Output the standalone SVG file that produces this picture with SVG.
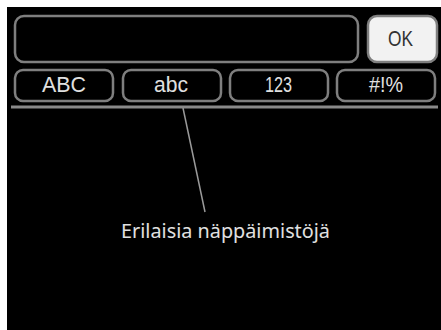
<svg xmlns="http://www.w3.org/2000/svg" width="441" height="330" viewBox="0 0 441 330">
  <style>
    .box { fill: #000; stroke: #7f7f7f; stroke-width: 2.5; }
    .ok { fill: #f2f2f2; stroke: #7f7f7f; stroke-width: 2.5; }
    .tab { font-family: "Liberation Sans", Arial, sans-serif; font-size: 22px; fill: #e0e0e0; }
    .label { font-family: "Noto Sans", "Open Sans", sans-serif; font-size: 19px; fill: #e0e0e0; }
    .conn { stroke: #9a9a9a; fill: none; }
  </style>
  <rect x="0" y="0" width="441" height="330" fill="#fff"/>
  <rect x="7" y="7" width="434" height="323" fill="#000"/>
  <g id="input-field">
    <rect class="box" x="15" y="16" width="343" height="46" rx="9"/>
  </g>
  <g id="ok-button">
    <rect class="ok" x="368" y="16" width="69" height="46" rx="9"/>
    <text class="tab" x="388" y="46" textLength="25" lengthAdjust="spacingAndGlyphs" style="fill:#333">OK</text>
  </g>
  <g id="tab-ABC">
    <rect class="box" x="15" y="70" width="98" height="31" rx="8"/>
    <text class="tab" x="42" y="92" textLength="44" lengthAdjust="spacingAndGlyphs">ABC</text>
  </g>
  <g id="tab-abc">
    <rect class="box" x="123" y="70" width="98" height="31" rx="8"/>
    <text class="tab" x="154" y="92" textLength="34" lengthAdjust="spacingAndGlyphs">abc</text>
  </g>
  <g id="tab-123">
    <rect class="box" x="230" y="70" width="98" height="31" rx="8"/>
    <text class="tab" x="265" y="92" textLength="27" lengthAdjust="spacingAndGlyphs">123</text>
  </g>
  <g id="tab-sym">
    <rect class="box" x="337" y="70" width="98" height="31" rx="8"/>
    <text class="tab" x="369" y="92" textLength="34" lengthAdjust="spacingAndGlyphs">#!%</text>
  </g>
  <g id="separator">
    <line x1="11" y1="107" x2="438" y2="107" stroke="#8a8a8a" stroke-width="3"/>
  </g>
  <g id="connectors">
    <line class="conn" x1="183" y1="108" x2="205" y2="212" stroke-width="1.5"/>
  </g>
  <g id="label">
    <text class="label" x="121" y="238" textLength="209" lengthAdjust="spacingAndGlyphs">Erilaisia näppäimistöjä</text>
  </g>
</svg>
